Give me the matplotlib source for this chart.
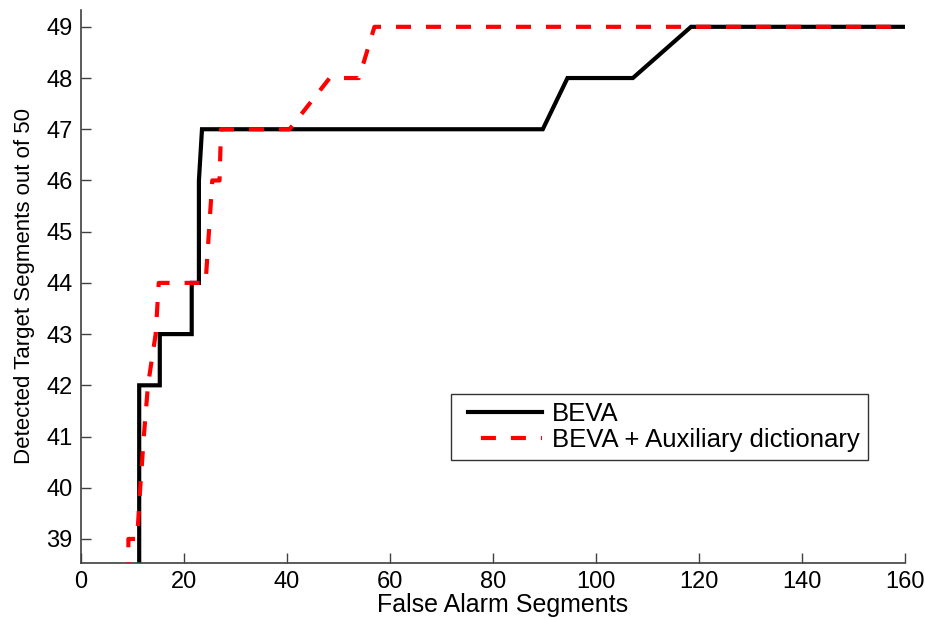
import matplotlib
matplotlib.use("Agg")
import matplotlib.pyplot as plt
from matplotlib.legend_handler import HandlerLine2D

plt.rcParams['font.family'] = ['Liberation Sans', 'DejaVu Sans']

# Data
beva_x = [11.3, 11.3, 15.3, 15.3, 21.5, 21.5, 22.9, 22.9, 23.5, 89.7, 94.5, 107.2, 118.5, 160]
beva_y = [38.0, 42, 42, 43, 43, 44, 44, 46, 47, 47, 48, 48, 49, 49]

aux_x = [9.2, 9.2, 10.9, 11.5, 12.2, 13.0, 14.5, 15.1, 24.2, 25.5, 26.9, 27.2, 40.5, 48.3, 54.0, 57.0, 160]
aux_y = [38.0, 39, 39, 40, 41, 42, 43, 44, 44, 46, 46, 47, 47, 48, 48, 49, 49]

x_ticks = [0, 20, 40, 60, 80, 100, 120, 140, 160]
y_ticks = [39, 40, 41, 42, 43, 44, 45, 46, 47, 48, 49]

fig = plt.figure(figsize=(9.25, 6.2), dpi=100)
ax = fig.add_axes([0.0876, 0.0919, 0.8904, 0.8921])

l1, = ax.plot(beva_x, beva_y, color='black', lw=3.0, label='BEVA',
              solid_joinstyle='miter', zorder=2)
l2, = ax.plot(aux_x, aux_y, color='#ff0000', lw=3.0, ls=(4.1, (3.6, 3.6)),
              label='BEVA + Auxiliary dictionary', zorder=3)

ax.set_xlim(0, 160)
ax.set_ylim(38.53, 49.33)
ax.set_xticks(x_ticks)
ax.set_yticks(y_ticks)
ax.tick_params(direction='in', length=7, width=1, color='#404040',
               labelsize=17, labelcolor='black', pad=6)

for s in ['top', 'right']:
    ax.spines[s].set_visible(False)
for s in ['left', 'bottom']:
    ax.spines[s].set_color('#404040')
    ax.spines[s].set_linewidth(1.2)

ax.set_xlabel('False Alarm Segments', fontsize=18, labelpad=2)
ax.xaxis.set_label_coords(0.512, -0.055)
ax.set_ylabel('Detected Target Segments out of 50', fontsize=16, labelpad=8)

hm = {l1: HandlerLine2D(xpad=0.35), l2: HandlerLine2D(xpad=0.35)}
leg = ax.legend(handles=[l1, l2], handler_map=hm,
                loc='lower left', bbox_to_anchor=(0.449, 0.186, 0.506, 0.123),
                mode='expand', fontsize=18.5, frameon=True, fancybox=False,
                handlelength=3.25, handletextpad=0.4, borderpad=0.3,
                labelspacing=0.1, borderaxespad=0)
leg.get_frame().set_edgecolor('black')
leg.get_frame().set_linewidth(1.0)

fig.savefig('out.png', dpi=100)
